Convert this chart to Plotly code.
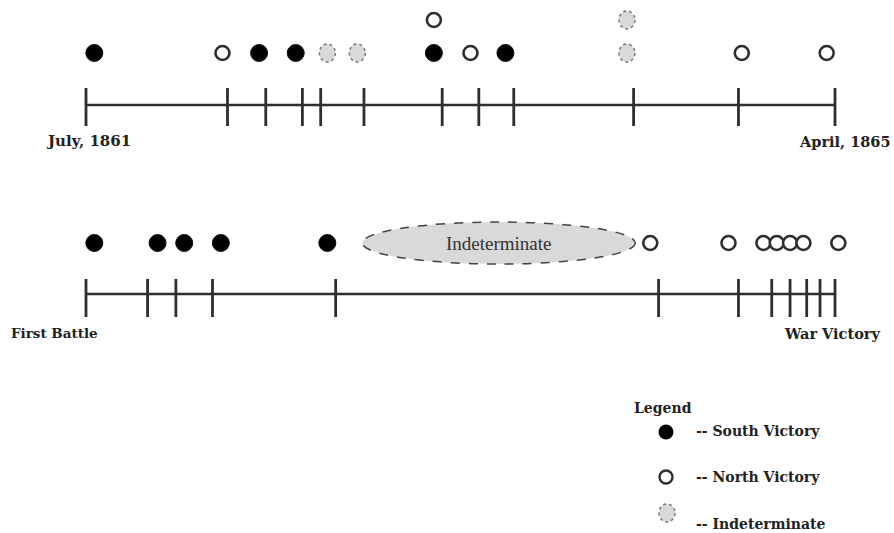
import plotly.graph_objects as go

# ---- data: positions in months since July 1861 (0) to April 1865 (45) ----
top_ticks = [0, 8.5, 10.8, 13.0, 14.1, 16.7, 21.4, 23.6, 25.7, 32.9, 39.2, 45]
top_south = [0.5, 10.4, 12.6, 20.9, 25.2]
top_north = [8.2, 23.1, 39.4, 44.5]
top_north_upper = [20.9]
top_indet = [14.5, 16.3, 32.5]
top_indet_upper = [32.5]

bottom_ticks = [0, 3.7, 5.4, 7.6, 15.0, 34.4, 39.2, 41.2, 42.3, 43.3, 44.1, 45]
bottom_south = [0.5, 4.3, 5.9, 8.1, 14.5]
bottom_north = [33.9, 38.6, 40.7, 41.5, 42.3, 43.1, 45.2]
indet_span = [16.6, 33.0]

top_labels = ["July, 1861", "April, 1865"]
bottom_labels = ["First Battle", "War Victory"]
legend_labels = ["-- South Victory", "-- North Victory", "-- Indeterminate"]

# ---- layout helpers ----
W, H = 894, 533
X0PX, X1PX, SPAN = 86, 835, 45.0
K = SPAN / (X1PX - X0PX)


def px(xp):
    return (xp - X0PX) * K


Y_TOP_LINE, Y_TOP_MARK, Y_TOP_UP = 105, 53, 20
Y_BOT_LINE, Y_BOT_MARK = 294, 243
INK = "#2e2e2e"
GRAY_FILL = "#d9d9d9"

fig = go.Figure()
shapes = []


def timeline(ticks, yline, t0, t1):
    fig.add_trace(go.Scatter(x=[ticks[0], ticks[-1]], y=[yline, yline], mode="lines",
                             line=dict(color=INK, width=2.5), hoverinfo="skip"))
    xs, ys = [], []
    for t in ticks:
        xs += [t, t, None]
        ys += [t0, t1, None]
    fig.add_trace(go.Scatter(x=xs, y=ys, mode="lines",
                             line=dict(color=INK, width=2.8), hoverinfo="skip"))


def south(xs, y):
    fig.add_trace(go.Scatter(x=xs, y=[y] * len(xs), mode="markers",
                             marker=dict(symbol="circle", size=17, color="#000",
                                         line=dict(color="#111", width=1)),
                             name="South Victory"))


def north(xs, y):
    fig.add_trace(go.Scatter(x=xs, y=[y] * len(xs), mode="markers",
                             marker=dict(symbol="circle", size=14, color="white",
                                         line=dict(color=INK, width=2.6)),
                             name="North Victory"))


def indet(xs, y):
    for m in xs:
        shapes.append(dict(type="circle", xref="x", yref="y",
                           x0=m - 8 * K, x1=m + 8 * K, y0=y - 9, y1=y + 9,
                           fillcolor=GRAY_FILL, line=dict(color="#777", width=1.5, dash="dot"),
                           layer="above"))


# top timeline
timeline(top_ticks, Y_TOP_LINE, 88, 126)
south(top_south, Y_TOP_MARK)
north(top_north, Y_TOP_MARK)
north(top_north_upper, Y_TOP_UP)
indet(top_indet, Y_TOP_MARK)
indet(top_indet_upper, Y_TOP_UP)

# bottom timeline
timeline(bottom_ticks, Y_BOT_LINE, 279, 317)
south(bottom_south, Y_BOT_MARK)
north(bottom_north, Y_BOT_MARK)
shapes.append(dict(type="circle", xref="x", yref="y",
                   x0=indet_span[0], x1=indet_span[1], y0=Y_BOT_MARK - 21, y1=Y_BOT_MARK + 21,
                   fillcolor=GRAY_FILL, line=dict(color="#444", width=1.5, dash="dash"),
                   layer="below"))

ann = []
BOLD = "DejaVu Serif"


def text(x, y, s, size, family=BOLD, xanchor="center", color="#222"):
    ann.append(dict(x=x, y=y, xref="x", yref="y", text=s, showarrow=False,
                    font=dict(family=family, size=size, color=color),
                    xanchor=xanchor, yanchor="middle"))


text(px(88), 141, "<b>%s</b>" % top_labels[0], 15)
text(px(893), 141, "<b>%s</b>" % top_labels[1], 14.5, xanchor="right")
text(px(54), 333, "<b>%s</b>" % bottom_labels[0], 13.5)
text(px(832), 333, "<b>%s</b>" % bottom_labels[1], 14.5)
text((indet_span[0] + indet_span[1]) / 2, Y_BOT_MARK,
     "Indeterminate", 19, family="Liberation Serif", color="#333")

# legend
text(px(663), 408, "<b>Legend</b>", 14)
fig.add_trace(go.Scatter(x=[px(666)], y=[432], mode="markers",
                         marker=dict(size=15, color="#000"), hoverinfo="skip"))
fig.add_trace(go.Scatter(x=[px(666)], y=[477], mode="markers",
                         marker=dict(size=13, color="white", line=dict(color=INK, width=2.4)),
                         hoverinfo="skip"))
indet([px(667)], 513)
for s, y in zip(legend_labels, [431, 477, 524]):
    text(px(694), y, "<b>%s</b>" % s, 14, xanchor="left")

fig.update_layout(
    width=W, height=H, margin=dict(l=0, r=0, t=0, b=0),
    paper_bgcolor="white", plot_bgcolor="white", showlegend=False,
    xaxis=dict(range=[px(0), px(W)], visible=False, fixedrange=True),
    yaxis=dict(range=[H, 0], visible=False, fixedrange=True),
    shapes=shapes, annotations=ann,
)
fig.write_html("out.html", config={"displayModeBar": False},
               post_script="document.body.style.margin='0';")
